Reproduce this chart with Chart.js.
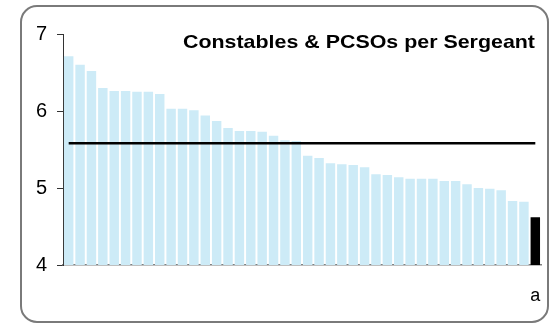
<!DOCTYPE html>
<html>
<head>
<meta charset="utf-8">
<script src="https://cdn.jsdelivr.net/npm/chart.js@4/dist/chart.umd.min.js"></script>
<style>
  body { margin: 0; background: #fff; }
  #wrap { position: relative; width: 553px; height: 325px; }
  #frame { position: absolute; left: 20px; top: 5px; width: 525px; height: 314px;
           border: 2px solid #7a7a7a; border-radius: 17px; pointer-events: none; }
</style>
</head>
<body>
<div id="wrap">
  <canvas id="myChart" width="553" height="325"></canvas>
  <div id="frame"></div>
</div>
<script>
// data
var labels = ['','','','','','','','','','','','','','','','','','','','','','','','','','','','','','','','','','','','','','','','','','a'];
var ratios = [6.71,6.60,6.52,6.30,6.26,6.26,6.25,6.25,6.22,6.03,6.03,6.01,5.94,5.87,5.78,
              5.74,5.74,5.73,5.68,5.62,5.61,5.42,5.39,5.32,5.31,5.30,5.27,5.18,5.17,5.14,
              5.12,5.12,5.12,5.09,5.09,5.05,5.00,4.99,4.97,4.83,4.82,4.62];
var average = 5.58;
var yTicks = [4, 5, 6, 7];
var title = 'Constables & PCSOs per Sergeant';

// colours: last bar highlighted
var barColors = ratios.map(function(v, i){
  return i == ratios.length - 1 ? '#000000' : '#cdebf7';
});
var avgLine = ratios.map(function(){ return average; });

var font = '"Liberation Sans", Arial, sans-serif';

// title drawn inside the plot, stretched to the width seen in the picture
var titlePlugin = {
  id: 'insideTitle',
  afterDraw: function(chart){
    var ctx = chart.ctx;
    ctx.save();
    ctx.font = 'bold 19px ' + font;
    ctx.fillStyle = '#000';
    ctx.textBaseline = 'alphabetic';
    var w = ctx.measureText(title).width;
    var sx = 352 / w;
    ctx.translate(183, 48);
    ctx.scale(sx, 1);
    ctx.fillText(title, 0, 0);
    ctx.restore();
  }
};

var ctx = document.getElementById('myChart').getContext('2d');
var myChart = new Chart(ctx, {
  data: {
    labels: labels,
    datasets: [{
      type: 'line',
      data: avgLine,
      borderColor: '#000',
      borderWidth: 2.5,
      pointRadius: 0,
      order: 0
    }, {
      type: 'bar',
      data: ratios,
      backgroundColor: barColors,
      categoryPercentage: 1,
      barPercentage: 0.83,
      order: 1
    }]
  },
  options: {
    responsive: false,
    animation: false,
    layout: { padding: { top: 34, right: 12, left: 0, bottom: 0 } },
    plugins: {
      legend: { display: false },
      tooltip: { enabled: false }
    },
    scales: {
      x: {
        grid: { display: false },
        border: { color: '#808080', width: 1.5 },
        ticks: { color: '#000', font: { family: font, size: 18 }, padding: 12, maxRotation: 0, autoSkip: false },
        afterFit: function(scale){ scale.height = 60; }
      },
      y: {
        min: 4,
        max: 7,
        afterBuildTicks: function(scale){
          scale.ticks = yTicks.map(function(v){ return { value: v }; });
        },
        grid: { drawOnChartArea: false, drawTicks: true, tickLength: 6, color: '#333' },
        border: { color: '#333', width: 1 },
        ticks: { color: '#000', font: { family: font, size: 20 }, padding: 10 },
        afterFit: function(scale){ scale.width = 63; }
      }
    }
  },
  plugins: [titlePlugin]
});
</script>
</body>
</html>
